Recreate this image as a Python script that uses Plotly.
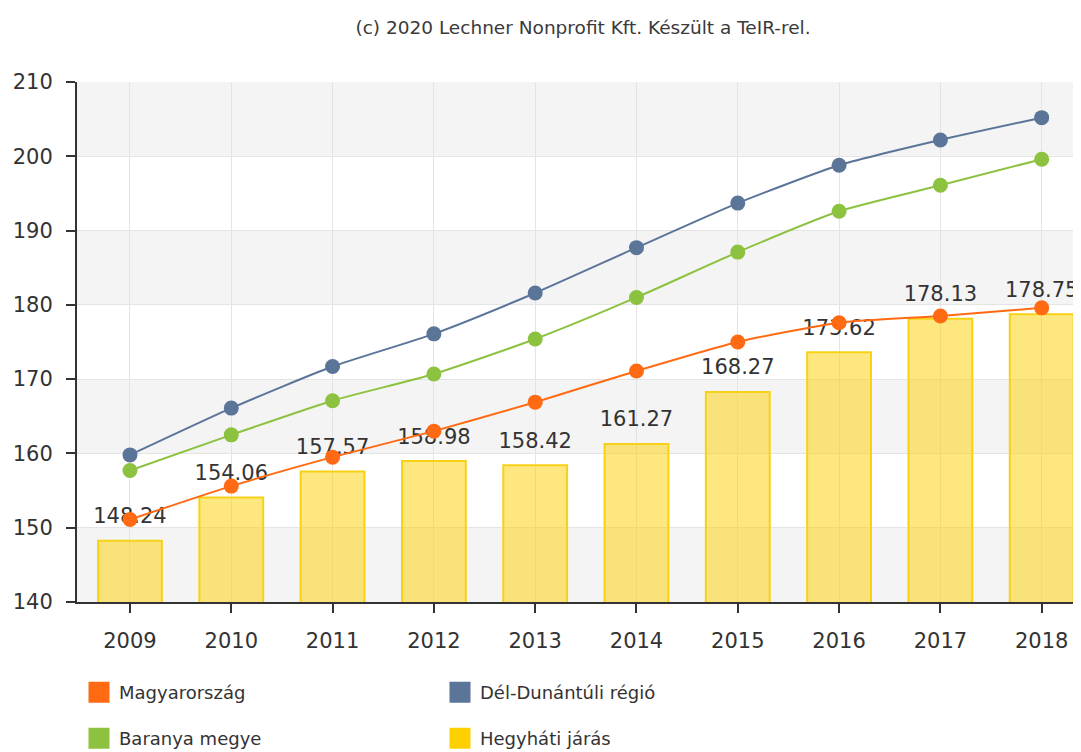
import plotly.graph_objects as go

years = ["2009", "2010", "2011", "2012", "2013", "2014", "2015", "2016", "2017", "2018"]

# Hegyháti járás (bars, labelled)
hegyhati = [148.24, 154.06, 157.57, 158.98, 158.42, 161.27, 168.27, 173.62, 178.13, 178.75]
# line series
magyarorszag = [151.1, 155.6, 159.5, 163.0, 166.9, 171.1, 175.0, 177.6, 178.5, 179.6]
del_dunantul = [159.8, 166.1, 171.7, 176.1, 181.6, 187.7, 193.7, 198.8, 202.2, 205.2]
baranya = [157.7, 162.5, 167.1, 170.7, 175.4, 181.0, 187.1, 192.6, 196.1, 199.6]

y_ticks = [140, 150, 160, 170, 180, 190, 200, 210]

ORANGE = "#ff6a13"
BLUE = "#5b7599"
GREEN = "#8cc23f"
YELLOW = "#ffd000"
TEXT = "#333333"
FONT = "DejaVu Sans"

fig = go.Figure()

fig.add_trace(go.Bar(
    x=years, y=hegyhati, name="Hegyháti járás",
    width=0.63,
    marker=dict(color="rgba(255,208,0,0.5)", line=dict(color="#f7d117", width=2)),
    showlegend=False,
    hoverinfo="x+y",
))

# value labels above the bars (drawn under the lines)
fig.add_trace(go.Scatter(
    x=years, y=hegyhati, mode="markers+text",
    text=[f"{v:.2f}" for v in hegyhati],
    textposition="top center",
    textfont=dict(family=FONT, size=21, color=TEXT),
    marker=dict(size=18, opacity=0),
    cliponaxis=False,
    showlegend=False, hoverinfo="skip",
))

for name, vals, col in [
    ("Dél-Dunántúli régió", del_dunantul, BLUE),
    ("Baranya megye", baranya, GREEN),
    ("Magyarország", magyarorszag, ORANGE),
]:
    fig.add_trace(go.Scatter(
        x=years, y=vals, name=name, mode="lines+markers",
        line=dict(color=col, width=2, shape="spline", smoothing=0.6),
        marker=dict(color=col, size=15),
        showlegend=False,
    ))

# legend entries as square swatches, two rows of two
for name, col, leg in [
    ("Magyarország", ORANGE, "legend"),
    ("Dél-Dunántúli régió", BLUE, "legend"),
    ("Baranya megye", GREEN, "legend2"),
    ("Hegyháti járás", YELLOW, "legend2"),
]:
    fig.add_trace(go.Scatter(
        x=[None], y=[None], name=name, mode="markers",
        legend=leg,
        marker=dict(symbol="square", color=col, size=16,
                    line=dict(color=col, width=5)),
    ))

# alternating background bands
shapes = []
for i in range(0, len(y_ticks) - 1, 2):
    shapes.append(dict(
        type="rect", xref="paper", yref="y", x0=0, x1=1,
        y0=y_ticks[i], y1=y_ticks[i + 1],
        fillcolor="#f4f4f4", line_width=0, layer="below",
    ))

legend_style = dict(
    orientation="h", xanchor="left", yanchor="top",
    xref="container", yref="container",
    entrywidth=316, entrywidthmode="pixels",
    font=dict(family=FONT, size=18, color=TEXT),
    itemsizing="trace",
    bgcolor="rgba(0,0,0,0)",
)

fig.update_layout(
    width=1081, height=752,
    paper_bgcolor="white", plot_bgcolor="white",
    margin=dict(l=69, r=8, t=74, b=158),
    title=dict(
        text="(c) 2020 Lechner Nonprofit Kft. Készült a TeIR-rel.",
        font=dict(family=FONT, size=18.5, color="#3a3a3a"),
        x=575 / 1081, xanchor="center", xref="container",
        y=1 - 20 / 752, yanchor="middle", yref="container",
    ),
    font=dict(family=FONT, color=TEXT),
    shapes=shapes,
    showlegend=True,
    legend=dict(x=71 / 1081, y=1 - 666 / 752, **legend_style),
    legend2=dict(x=71 / 1081, y=1 - 712 / 752, **legend_style),
    xaxis=dict(
        type="category", range=[-0.523, 9.388],
        automargin=False,
        showline=True, linecolor="#333333", linewidth=2,
        ticks="outside", ticklen=9, tickcolor="#333333", tickwidth=2,
        showgrid=True, gridcolor="#e4e4e4", gridwidth=1,
        tickfont=dict(family=FONT, size=21, color=TEXT),
        tickangle=0,
        ticklabelstandoff=10,
    ),
    yaxis=dict(
        range=[140, 210], tickvals=y_ticks,
        automargin=False,
        showline=True, linecolor="#333333", linewidth=2,
        ticks="outside", ticklen=9, tickcolor="#333333", tickwidth=2,
        showgrid=True, gridcolor="#e4e4e4", gridwidth=1,
        zeroline=False,
        tickfont=dict(family=FONT, size=21, color=TEXT),
        ticklabelstandoff=9,
    ),
)

fig.write_html("out.html")
